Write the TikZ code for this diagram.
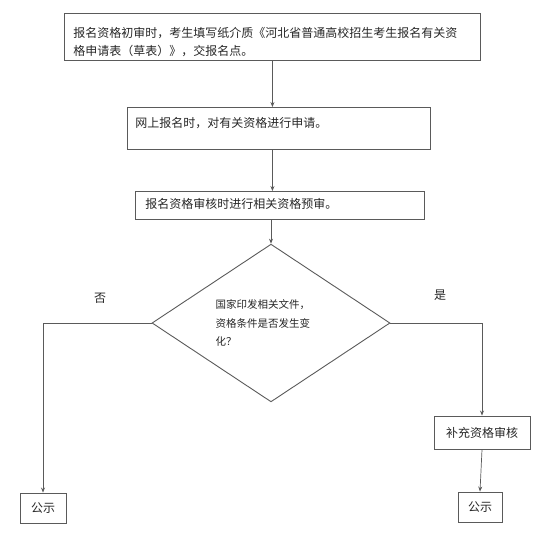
\documentclass[tikz,border=0pt]{standalone}
\usepackage{fontspec}
\setmainfont{Noto Sans CJK SC}
\usepackage{xcolor}
\usepackage{tikz}
\usetikzlibrary{
  arrows.meta,
  shapes.geometric,
  positioning,
  calc
}
\definecolor{qLine}{HTML}{5A5A5A}
\definecolor{qText}{HTML}{262626}
\tikzset{
  qbox/.style={
    draw=qLine, line width=0.9pt, anchor=north west, inner ysep=0pt,
    align=left, font=\fontsize{12}{18}\selectfont, text=qText
  },
  qsmall/.style={draw=qLine, line width=0.9pt, inner sep=0pt, font=\fontsize{12}{12}\selectfont, text=qText},
  decision/.style={
    draw=qLine, line width=0.9pt, diamond, inner sep=0pt,
    minimum width=238pt, minimum height=110pt, align=left, text width=111pt,
    font=\fontsize{10.5}{18.5}\selectfont, text=qText
  },
  flow/.style={-{Stealth[length=5pt, width=4pt]}, line width=0.7pt, qLine},
  tag/.style={font=\fontsize{12}{12}\selectfont, text=qText, inner sep=0pt}
}

\begin{document}
\begin{tikzpicture}[x=1pt, y=-1pt]
  \useasboundingbox (0,0) rectangle (556,552);
  \node[qbox, text width=398pt, inner xsep=9pt, text height=23.6pt, text depth=23.4pt] (apply) at (64,13)
    {报名资格初审时，考生填写纸介质《河北省普通高校招生考生报名有关资\\格申请表（草表）》，交报名点。};
  \node[qbox, text width=287pt, inner xsep=8pt, text height=19.6pt, text depth=22.4pt] (online) at (127,107)
    {网上报名时，对有关资格进行申请。};
  \node[qbox, text width=269pt, inner xsep=10pt, text height=16.6pt, text depth=11.4pt] (pre) at (135,191)
    {报名资格审核时进行相关资格预审。};
  \node[decision] (change) at (271,323) {国家印发相关文件，\\资格条件是否发生变\\化？};
  \node[tag] (no) at (100,298) {否};
  \node[tag] (yes) at (440,295) {是};
  \node[qsmall, minimum width=96pt, minimum height=33pt] (extra) at (482,432.5) {补充资格审核};
  \node[qsmall, minimum width=46pt, minimum height=30pt] (pubL) at (43,508) {公示};
  \node[qsmall, minimum width=44pt, minimum height=30pt] (pubR) at (480,507) {公示};
  \draw[flow] (apply.south) -- (apply.south |- online.north);
  \draw[flow] (apply.south |- online.south) -- (apply.south |- pre.north);
  \draw[flow] (change.north |- pre.south) -- (change.north);
  \draw[flow] (change.west) -| (pubL.north);
  \draw[flow] (change.east) -| (extra.north);
  \draw[flow] (extra.south) -- (pubR.north);
\end{tikzpicture}
\end{document}
